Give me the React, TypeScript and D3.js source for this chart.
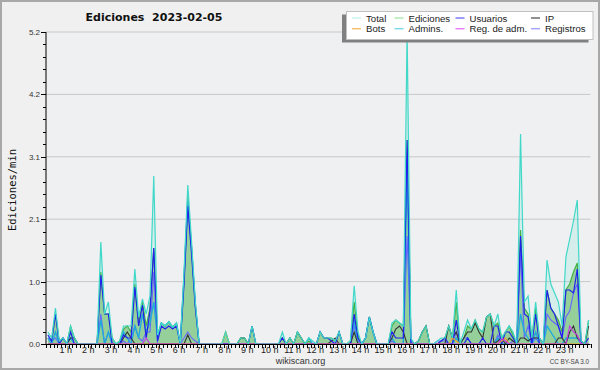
import React from "react";
import * as d3 from "d3";

// 10-minute buckets (144 per day), values in edits/min
const total = [
  0.2,0.1,0.6,0.05,0.1,0, 0.3,0.1,0,0,0,0,
  0,0,1.7,0.5,0.7,0.1, 0,0.05,0.3,0.3,0.3,1.25,
  0.45,0.75,0.5,0.8,2.8,0.15, 0.35,0.3,0.37,0.28,0.35,0,
  1.2,2.65,1.7,0.7,0,0, 0,0,0,0,0,0.2,
  0,0,0,0.1,0.1,0, 0.3,0,0,0,0,0,
  0,0,0.2,0,0.1,0, 0.2,0.1,0,0.1,0.05,0,
  0.2,0.1,0.1,0.1,0.05,0.2, 0,0,0.05,0.97,0.2,0,
  0.1,0.45,0.2,0,0,0, 0,0.35,0.4,0.35,0.3,5.2,
  0.1,0,0.05,0.2,0.3,0, 0,0.05,0.1,0.1,0.3,0.1,
  0.9,0,0.2,0.4,0.25,0.4, 0.25,0.2,0.45,0.5,0.3,0.5,
  0.1,0.2,0.3,0.2,0,3.5, 0.7,0.8,0.1,0.7,0.1,0,
  1.4,1.0,0.85,0.7,0.3,1.45, 1.75,2.05,2.4,0.05,0,0.4,
];
const ediciones = [
  0.1,0.05,0.5,0.05,0.1,0, 0.3,0.1,0,0,0,0,
  0,0,1.2,0.5,0.5,0.1, 0,0.05,0.25,0.3,0.2,1.0,
  0.35,0.7,0.3,0.6,1.6,0.15, 0.35,0.3,0.37,0.28,0.35,0,
  1.1,2.45,1.6,0.65,0,0, 0,0,0,0,0,0.2,
  0,0,0,0.1,0.1,0, 0.3,0,0,0,0,0,
  0,0,0.1,0,0.1,0, 0.2,0.1,0,0.05,0,0,
  0.2,0.1,0.1,0.1,0.05,0.2, 0,0,0.05,0.7,0.15,0,
  0.1,0.45,0.2,0,0,0, 0,0.3,0.4,0.35,0.3,3.4,
  0.05,0,0.05,0.2,0.3,0, 0,0,0.05,0.1,0.3,0.1,
  0.7,0,0.1,0.3,0.25,0.4, 0.25,0.2,0.45,0.5,0.3,0.35,
  0.1,0.2,0.3,0.15,0,1.9, 0.6,0.5,0.1,0.6,0.1,0,
  0.9,0.6,0.5,0.4,0.2,0.9, 1.0,1.2,1.35,0.05,0,0.4,
];
const usuarios = [
  0.15,0.05,0.5,0,0.1,0, 0.2,0,0,0,0,0,
  0,0,1.15,0.5,0.5,0, 0,0,0.15,0.1,0.1,0.95,
  0.3,0.65,0.1,0.55,1.6,0.05, 0.3,0.25,0.3,0.25,0.3,0,
  1.0,2.3,1.5,0.6,0,0, 0,0,0,0,0,0,
  0,0,0,0,0,0, 0.3,0,0,0,0,0,
  0,0,0.1,0,0,0, 0,0,0,0,0,0,
  0.2,0.1,0.1,0.05,0,0.2, 0,0,0,0.5,0.1,0,
  0.1,0.45,0.2,0,0,0, 0,0.2,0.1,0.1,0.1,3.4,
  0,0,0,0,0,0, 0,0,0.05,0.1,0,0,
  0.4,0,0,0.1,0,0, 0,0.1,0,0,0.3,0.3,
  0,0.2,0.2,0.1,0,1.8, 0.5,0.45,0,0.5,0,0,
  0.9,0.6,0.5,0.3,0.1,0.9, 0.9,0.85,1.25,0,0,0.1,
];
const ip = [
  0,0,0,0,0,0, 0.1,0.1,0,0,0,0,
  0,0,0,0,0,0, 0,0,0.1,0.2,0.1,0,
  0,0,0,0,0,0, 0,0,0,0,0,0,
  0,0.15,0,0,0,0, 0,0,0,0,0,0,
  0,0,0,0.1,0.1,0, 0,0,0,0,0,0,
  0,0,0,0,0.1,0, 0.2,0.1,0,0,0,0,
  0,0,0,0.05,0.1,0, 0,0,0,0.2,0,0,
  0,0,0,0,0,0, 0,0.1,0.25,0.3,0.2,0,
  0,0,0.05,0.2,0.3,0, 0,0,0,0,0.3,0.1,
  0.2,0,0.1,0.2,0.2,0.35, 0.2,0.1,0.45,0.5,0,0.05,
  0.1,0,0.1,0.05,0,0.1, 0.1,0.05,0.1,0.1,0.1,0,
  0,0,0,0.1,0.1,0, 0.2,0.3,0.1,0.05,0,0.3,
];
const bots = [
  0,0,0,0,0,0, 0,0,0,0,0,0,
  0,0,0,0,0,0, 0,0,0,0,0,0,
  0,0,0,0,0,0, 0,0,0,0,0,0,
  0,0,0,0,0,0, 0,0,0,0,0,0.2,
  0,0,0,0,0,0, 0,0,0,0,0,0,
  0,0,0,0,0,0, 0,0,0,0,0,0,
  0,0,0,0,0,0, 0,0,0,0,0,0,
  0,0,0,0,0,0, 0,0,0,0,0,0,
  0,0,0,0,0,0, 0,0,0,0,0,0.1,
  0.05,0,0,0,0,0, 0,0,0,0,0,0,
  0.05,0.1,0,0,0,0, 0,0,0,0,0,0,
  0,0,0,0,0,0, 0,0,0,0,0,0,
];
const admins = [
  0.1,0,0.2,0,0,0, 0.1,0,0,0,0,0,
  0,0,0.4,0,0.2,0, 0,0,0.2,0.1,0,0.3,
  0.1,0.5,0.2,0.35,0.7,0.1, 0.35,0.3,0.37,0.28,0.35,0,
  1.1,2.4,1.6,0.65,0,0, 0,0,0,0,0,0,
  0,0,0,0,0,0, 0,0,0,0,0,0,
  0,0,0,0,0,0, 0,0,0,0.1,0,0,
  0,0,0,0,0,0, 0,0,0,0.4,0,0,
  0.1,0.45,0.2,0,0,0, 0,0.1,0,0,0,3.0,
  0,0,0,0,0,0, 0,0,0,0,0,0,
  0.1,0,0,0,0,0, 0,0,0,0,0,0.1,
  0,0,0,0,0,0.5, 0.2,0.1,0,0.2,0,0,
  0.3,0.2,0.1,0,0,0.1, 0.1,0.1,0.1,0,0,0,
];
const regAdm = [
  0,0,0,0,0,0, 0,0,0,0,0,0,
  0,0,0,0,0,0, 0,0,0,0,0,0,
  0,0,0.1,0,0,0, 0,0,0,0,0,0,
  0,0,0,0,0,0, 0,0,0,0,0,0,
  0,0,0,0,0,0, 0,0,0,0,0,0,
  0,0,0,0,0,0, 0,0,0,0,0,0,
  0,0,0,0,0,0, 0,0,0,0,0,0,
  0,0,0,0,0,0, 0,0,0,0,0,0,
  0,0,0,0,0,0, 0,0,0,0,0,0,
  0,0,0,0,0,0, 0,0,0,0,0,0,
  0.1,0.05,0,0,0,0, 0,0,0,0,0,0,
  0,0,0,0,0,0, 0.3,0.2,0.15,0,0,0,
];
const registros = [
  0.1,0.05,0.1,0,0,0, 0,0,0,0,0,0,
  0,0,0.5,0,0.2,0, 0,0,0.05,0,0.1,0.3,
  0.1,0.05,0.2,0.2,1.2,0, 0,0,0,0,0,0,
  0.1,0.2,0.1,0.05,0,0, 0,0,0,0,0,0,
  0,0,0,0,0,0, 0,0,0,0,0,0,
  0,0,0,0,0,0, 0,0,0,0,0,0,
  0,0,0,0,0,0, 0,0,0,0.3,0.05,0,
  0,0,0,0,0,0, 0,0.05,0,0,0,1.8,
  0.05,0,0,0,0,0, 0,0.05,0.05,0.05,0,0,
  0.2,0,0.1,0.1,0,0, 0,0,0,0,0,0.15,
  0,0,0,0.05,0,1.5, 0.1,0.3,0,0.1,0,0,
  0.5,0.4,0.35,0.3,0.1,0.45, 0.55,0.85,1.0,0,0,0,
];

const yTickValues = [0, 1.04, 2.08, 3.12, 4.16, 5.2];
const yTickLabels = ["0.0", "1.0", "2.1", "3.1", "4.2", "5.2"];
const hourLabels = d3.range(1, 24).map((h) => `${h} h`);

const legendItems = [
  { name: "Total", color: "#aeeeea" },
  { name: "Ediciones", color: "#88dd88" },
  { name: "Usuarios", color: "#3a3aee" },
  { name: "IP", color: "#222222" },
  { name: "Bots", color: "#f5a030" },
  { name: "Admins.", color: "#44ccdd" },
  { name: "Reg. de adm.", color: "#dd44ee" },
  { name: "Registros", color: "#8080ff" },
];

export default function App() {
  const W = 600, H = 370;
  const x0 = 46, x1 = 590.5, yTop = 32, yBot = 344;
  const x = d3.scaleLinear().domain([0, 1440]).range([x0, x1]);
  const y = d3.scaleLinear().domain([0, 5.2]).range([yBot, yTop]);
  const mins = d3.range(144).map((i) => i * 10 + 5);

  const line = d3
    .line<number>()
    .x((_, i) => x(mins[i]))
    .y((d) => y(d));
  const area = d3
    .area<number>()
    .x((_, i) => x(mins[i]))
    .y0(y(0))
    .y1((d) => y(d));

  const minorY = d3.range(0, 26).map((k) => k * 0.208);
  const xTicks = d3.range(0, 145).map((k) => k * 10);
  const legendCols = [366, 408.5, 469.5, 545];
  const legendRows = [21.5, 32.3];
  const font = "'Liberation Sans', Arial, sans-serif";

  return (
    <div style={{ position: "fixed", left: 0, top: 0 }}>
      <svg width={W} height={H} style={{ display: "block" }}>
        <rect x={1} y={1} width={W - 2} height={H - 2} fill="#f0f0f0" stroke="#a8a8a8" strokeWidth={2} />
        <rect x={x0} y={yTop} width={x1 - x0} height={yBot - yTop} fill="#eef0f2" />
        {yTickValues.slice(1).map((v, i) => (
          <line key={"g" + i} x1={x0} x2={x1} y1={y(v)} y2={y(v)} stroke="#c8c8c8" strokeWidth={1} />
        ))}
        {/* series */}
        <path d={area(total) || ""} fill="#40e0d0" fillOpacity={0.14} />
        <path d={area(ediciones) || ""} fill="#7fc47f" fillOpacity={0.75} />
        <path d={line(ediciones) || ""} fill="none" stroke="#44b044" strokeWidth={1.2} />
        <path d={line(registros) || ""} fill="none" stroke="#6666ff" strokeWidth={1.1} />
        <path d={line(admins) || ""} fill="none" stroke="#1faadd" strokeWidth={1.4} />
        <path d={line(ip) || ""} fill="none" stroke="#333333" strokeWidth={1.1} />
        <path d={line(usuarios) || ""} fill="none" stroke="#2020ee" strokeWidth={1.2} />
        <path d={line(bots) || ""} fill="none" stroke="#f0a020" strokeWidth={1.1} />
        <path d={line(regAdm) || ""} fill="none" stroke="#cc33ee" strokeWidth={1.1} />
        <path d={line(total) || ""} fill="none" stroke="#40d8c8" strokeWidth={1.2} />
        {/* y axis */}
        <line x1={x0} x2={x0} y1={yTop} y2={yBot} stroke="#000" strokeWidth={1} />
        {minorY.map((v, i) => (
          <line key={"my" + i} x1={x0 - 3} x2={x0} y1={Math.round(y(v)) + 0.5} y2={Math.round(y(v)) + 0.5} stroke="#000" />
        ))}
        {yTickValues.map((v, i) => (
          <g key={"yt" + i}>
            <line x1={x0 - 5} x2={x0} y1={Math.round(y(v)) + 0.5} y2={Math.round(y(v)) + 0.5} stroke="#000" />
            <text x={x0 - 6} y={y(v) + 3} fontSize={8} fontFamily={font} textAnchor="end" fill="#333">
              {yTickLabels[i]}
            </text>
          </g>
        ))}
        <text
          transform={`translate(16,${(yTop + yBot) / 2 + 2}) rotate(-90)`}
          fontSize={10.5}
          fontFamily="'DejaVu Sans Mono', monospace"
          textAnchor="middle"
          fill="#111"
        >
          Ediciones/min
        </text>
        {/* x axis */}
        <line x1={x0} x2={x1} y1={yBot + 0.5} y2={yBot + 0.5} stroke="#000" strokeWidth={1} />
        {xTicks.map((m, i) => (
          <line key={"xt" + i} x1={Math.round(x(m)) + 0.5} x2={Math.round(x(m)) + 0.5} y1={yBot} y2={yBot + 4} stroke="#000" />
        ))}
        {hourLabels.map((lab, i) => (
          <text key={"xl" + i} x={x((i + 1) * 60) - 3} y={353} fontSize={9} fontFamily={font} textAnchor="middle" fill="#222">
            {lab}
          </text>
        ))}
        {/* title */}
        <text x={154} y={21} fontSize={11} fontWeight="bold" fontFamily="'DejaVu Sans', sans-serif" textAnchor="middle" fill="#111" style={{ whiteSpace: "pre" }}>
          {"Ediciones  2023-02-05"}
        </text>
        {/* legend */}
        <rect x={342} y={14.5} width={246.5} height={28} fill="#808080" />
        <rect x={346.5} y={11.5} width={246.5} height={28} fill="#ffffff" stroke="#c0c0c0" />
        {legendItems.map((it, i) => {
          const cx = legendCols[i % 4];
          const cy = legendRows[Math.floor(i / 4)];
          return (
            <g key={"lg" + i}>
              <line x1={cx - 14} x2={cx - 5} y1={cy - 3.5} y2={cy - 3.5} stroke={it.color} strokeWidth={1} />
              <text x={cx} y={cy} fontSize={9.6} fontFamily={font} fill="#222">
                {it.name}
              </text>
            </g>
          );
        })}
        {/* footer */}
        <text x={300.5} y={364} fontSize={9} fontFamily={font} textAnchor="middle" fill="#333">
          wikiscan.org
        </text>
        <text x={589} y={364} fontSize={6.3} fontFamily={font} textAnchor="end" fill="#444">
          CC BY-SA 3.0
        </text>
      </svg>
    </div>
  );
}
